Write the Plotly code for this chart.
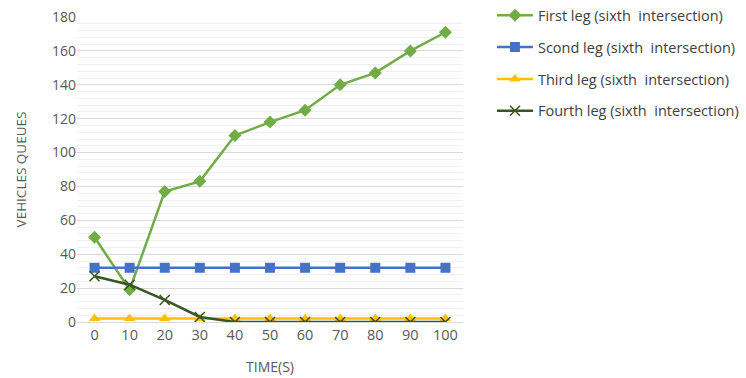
import plotly.graph_objects as go

time_labels = ["0", "10", "20", "30", "40", "50", "60", "70", "80", "90", "100"]
first_leg = [50, 19, 77, 83, 110, 118, 125, 140, 147, 160, 171]
second_leg = [32, 32, 32, 32, 32, 32, 32, 32, 32, 32, 32]
third_leg = [2, 2, 2, 2, 2, 2, 2, 2, 2, 2, 2]
fourth_leg = [27, 22, 13, 3, 0, 0, 0, 0, 0, 0, 0]

names = ["First leg (sixth  intersection)", "Scond leg (sixth  intersection)",
         "Third leg (sixth  intersection)", "Fourth leg (sixth  intersection)"]
series = [first_leg, second_leg, third_leg, fourth_leg]
colors = ["#70AD47", "#4472C4", "#FFC000", "#375623"]
symbols = ["diamond", "square", "triangle-up", "x-thin"]
sizes = [10, 10, 10, 10]

fig = go.Figure()
for i, (nm, ys, c, s, sz) in enumerate(zip(names, series, colors, symbols, sizes)):
    marker = dict(color=c, symbol=s, size=sz)
    if s == "x-thin":
        marker["line"] = dict(color=c, width=1.5)
    fig.add_trace(go.Scatter(
        x=list(range(len(time_labels))), y=ys, name=nm, mode="lines+markers",
        line=dict(color=c, width=2.5), marker=marker, legendgroup=str(i)))

fig.update_layout(
    width=746, height=378,
    margin=dict(l=77, r=283, t=17, b=56, autoexpand=False),
    paper_bgcolor="white", plot_bgcolor="white",
    font=dict(family="Open Sans, sans-serif", color="#595959", size=12),
    legend=dict(x=1.075, y=1.058, xanchor="left", yanchor="top",
                traceorder="grouped", tracegroupgap=10,
                font=dict(size=14.5, color="#404040"), itemwidth=36),
    showlegend=True,
)
fig.update_xaxes(
    tickmode="array", tickvals=list(range(len(time_labels))), ticktext=time_labels,
    range=[-0.5, 10.5], showgrid=False, zeroline=False,
    showline=True, linecolor="#d9d9d9", linewidth=1,
    title=dict(text="TIME(S)", font=dict(size=14, color="#595959"), standoff=18),
    tickfont=dict(size=14.5, color="#595959"),
)
fig.update_yaxes(
    range=[0, 180], dtick=20, showgrid=True, gridcolor="#d9d9d9", gridwidth=1,
    zeroline=False, showline=False,
    minor=dict(dtick=4, showgrid=True, gridcolor="#f0f0f0", gridwidth=1),
    title=dict(text="VEHICLES QUEUES", font=dict(size=13.5, color="#595959"), standoff=22),
    tickfont=dict(size=14, color="#595959"),
)

fig.write_html("out.html")
